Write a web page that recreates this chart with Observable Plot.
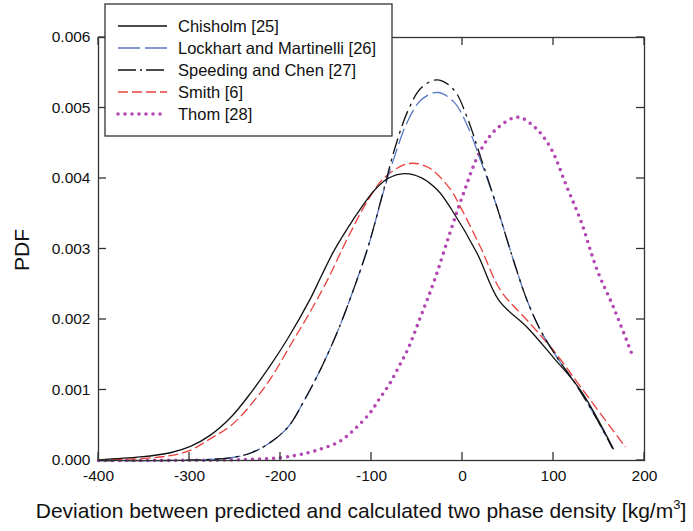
<!DOCTYPE html>
<html><head><meta charset="utf-8">
<script src="https://cdn.jsdelivr.net/npm/d3@7"></script>
<script src="https://cdn.jsdelivr.net/npm/@observablehq/plot@0.6"></script>
<style>body{margin:0;background:#fff}</style>
</head><body><div id="chart"></div>
<script>
const seriesNames = ["Chisholm [25]", "Lockhart and Martinelli [26]", "Speeding and Chen [27]", "Smith [6]", "Thom [28]"];
const xTicks = [-400, -300, -200, -100, 0, 100, 200];
const yTicks = [0, 0.001, 0.002, 0.003, 0.004, 0.005, 0.006];

const chisholmX = [-400,-354,-321,-299,-277,-254,-232,-210,-192,-167,-155,-141,-126,-111,-97,-82,-64,-45,-27,-12,16,40,71,100,130,166];
const chisholmY = [0.01,0.05,0.11,0.20,0.36,0.62,0.97,1.37,1.73,2.30,2.62,2.98,3.30,3.59,3.83,4.00,4.07,4.01,3.83,3.56,2.94,2.27,1.89,1.46,0.99,0.16];

const lockhartX = [-400,-300,-254,-232,-213,-192,-174,-155,-137,-123,-104,-86,-75,-60,-45,-27,-9,5,20,38,56,71,86,104,122,144,165];
const lockhartY = [0,0.005,0.04,0.11,0.24,0.47,0.85,1.32,1.84,2.31,3.02,3.85,4.30,4.82,5.12,5.22,5.08,4.76,4.25,3.59,2.84,2.27,1.84,1.46,1.13,0.67,0.17];

const speedingX = [-400,-300,-254,-232,-213,-192,-174,-155,-137,-123,-104,-86,-75,-60,-45,-27,-9,5,20,38,56,71,86,104,122,144,165];
const speedingY = [0,0.005,0.04,0.11,0.24,0.47,0.85,1.32,1.84,2.31,3.02,3.87,4.40,4.96,5.29,5.40,5.25,4.87,4.30,3.59,2.84,2.27,1.84,1.46,1.13,0.67,0.17];

const smithX = [-400,-350,-321,-300,-277,-254,-232,-210,-188,-170,-150,-126,-104,-86,-60,-38,-14,-2,20,42,71,100,130,179];
const smithY = [0.01,0.03,0.07,0.14,0.31,0.50,0.80,1.18,1.66,2.05,2.52,3.16,3.69,4.01,4.21,4.16,3.86,3.59,3.02,2.41,1.99,1.56,1.04,0.19];

const thomX = [-400,-300,-250,-200,-170,-152,-135,-119,-102,-91,-80,-70,-60,-46,-31,-14,0,20,38,61,80,97,115,130,148,166,188];
const thomY = [0,0.003,0.01,0.04,0.11,0.18,0.27,0.44,0.67,0.88,1.09,1.33,1.58,2.04,2.55,3.22,3.75,4.40,4.71,4.87,4.72,4.43,3.87,3.40,2.70,2.17,1.45];

const toRows = (xs, ys) => xs.map((x, i) => ({x, y: ys[i] / 1000}));
const styles = [
  {stroke: "#111", dash: null, width: 1.3, cap: "butt"},
  {stroke: "#5577c4", dash: "16,5", width: 1.3, cap: "butt"},
  {stroke: "#111", dash: "16,5,3,5", width: 1.3, cap: "butt"},
  {stroke: "#e8413c", dash: "10,4", width: 1.3, cap: "butt"},
  {stroke: "#b348b3", dash: "0,7", width: 3.6, cap: "round"}
];
const datasets = [
  toRows(chisholmX, chisholmY),
  toRows(lockhartX, lockhartY),
  toRows(speedingX, speedingY),
  toRows(smithX, smithY),
  toRows(thomX, thomY)
];
const drawOrder = [4, 3, 1, 2, 0];

const font = "Liberation Sans, Arial, sans-serif";
const axisColor = "#333";
const tk = 8;

const plot = Plot.plot({
  width: 693, height: 531,
  marginLeft: 98, marginRight: 49, marginTop: 37, marginBottom: 71,
  style: {fontFamily: font, fontSize: "15.5px", color: "#111", background: "#fff"},
  x: {domain: [-400, 200], ticks: xTicks},
  y: {domain: [0, 0.006], ticks: yTicks},
  marks: [
    ...drawOrder.map(i => Plot.line(datasets[i], {
      x: "x", y: "y", curve: "catmull-rom",
      stroke: styles[i].stroke, strokeWidth: styles[i].width,
      strokeDasharray: styles[i].dash, strokeLinecap: styles[i].cap
    })),
    Plot.frame({stroke: axisColor, strokeWidth: 1.3}),
    Plot.axisX(xTicks, {anchor: "bottom", tickSize: 0, tickPadding: 9, label: null, tickFormat: d => String(d), fill: "#111"}),
    Plot.axisY(yTicks, {anchor: "left", tickSize: 0, tickPadding: 8, label: null, tickFormat: d3.format(".3f"), fill: "#111"})
  ]
});
document.getElementById("chart").appendChild(plot);

const svg = d3.select(plot);
const sx = plot.scale("x"), sy = plot.scale("y");
const [xl, xr] = sx.range, [yb, yt] = sy.range;
// inward ticks on all four sides
const tg = svg.append("g").attr("stroke", axisColor).attr("stroke-width", 1.3);
xTicks.forEach(v => {
  const px = sx.apply(v);
  tg.append("line").attr("x1", px).attr("x2", px).attr("y1", yb).attr("y2", yb - tk);
  tg.append("line").attr("x1", px).attr("x2", px).attr("y1", yt).attr("y2", yt + tk);
});
yTicks.forEach(v => {
  const py = sy.apply(v);
  tg.append("line").attr("x1", xl).attr("x2", xl + tk).attr("y1", py).attr("y2", py);
  tg.append("line").attr("x1", xr).attr("x2", xr - tk).attr("y1", py).attr("y2", py);
});

// axis titles
const xt = svg.append("text").attr("x", 361).attr("y", 518).attr("text-anchor", "middle")
  .attr("font-family", font).attr("font-size", 21).attr("fill", "#111");
xt.append("tspan").text("Deviation between predicted and calculated two phase density [kg/m");
xt.append("tspan").text("3").attr("font-size", 13).attr("dy", -9);
xt.append("tspan").text("]").attr("dy", 9);
svg.append("text").attr("transform", "translate(29,250) rotate(-90)").attr("text-anchor", "middle")
  .attr("font-family", font).attr("font-size", 21).attr("fill", "#111").text("PDF");

// legend
const lg = svg.append("g").attr("transform", "translate(105,4)");
lg.append("rect").attr("width", 287).attr("height", 132).attr("fill", "#fff").attr("stroke", axisColor).attr("stroke-width", 1.3);
seriesNames.forEach((name, i) => {
  const yy = 22 + i * 22;
  const s = styles[i];
  lg.append("line").attr("x1", 13).attr("x2", 62).attr("y1", yy).attr("y2", yy)
    .attr("stroke", s.stroke).attr("stroke-width", s.width)
    .attr("stroke-dasharray", i === 1 ? "22,5" : i === 2 ? "18,4,2,4" : s.dash)
    .attr("stroke-linecap", s.cap);
  lg.append("text").attr("x", 73).attr("y", yy + 6).attr("text-anchor", "start")
    .attr("font-family", font).attr("font-size", 16.5).attr("fill", "#111").text(name);
});
</script></body></html>
